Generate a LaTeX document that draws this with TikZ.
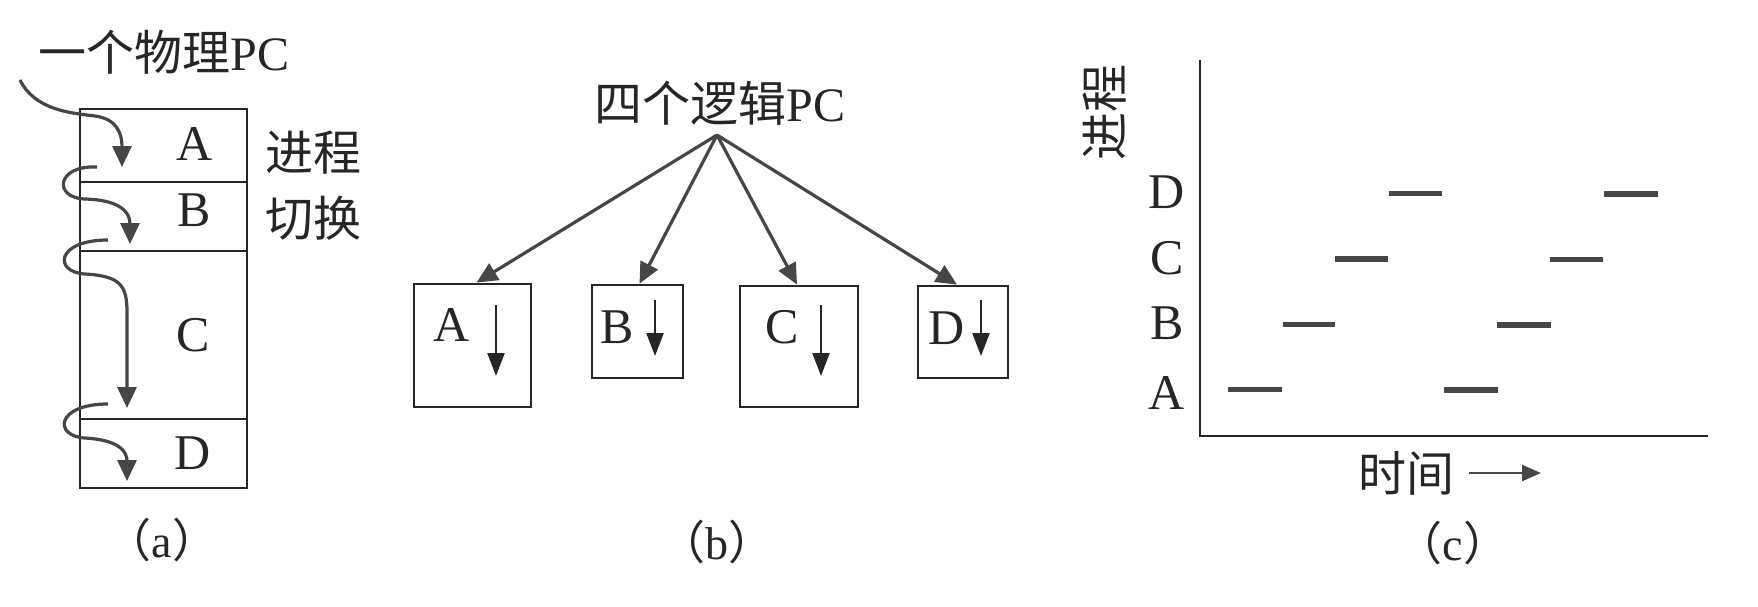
\documentclass[tikz,border=0pt]{standalone}
\usepackage{fontspec}
\setmainfont{Liberation Serif}
\newfontfamily\cjk{Noto Sans CJK SC}
\usetikzlibrary{arrows.meta}
\definecolor{ink}{HTML}{262626}
\definecolor{arr}{HTML}{464646}
\begin{document}
\begin{tikzpicture}[x=1pt,y=-1pt,
  txt/.style={inner sep=0pt, text=ink, font=\fontsize{48}{56}\selectfont},
  captxt/.style={inner sep=0pt, text=ink, font=\fontsize{46}{54}\selectfont},
  lett/.style={inner sep=0pt, text=ink, font=\fontsize{50}{58}\selectfont},
  cell/.style={draw=ink, line width=2.8pt, inner sep=0pt},
  pcarrow/.style={draw=arr, line width=3.2pt, -{Triangle[length=21pt,width=19pt]}},
  smallarrow/.style={draw=ink, line width=2.4pt, -{Triangle[length=23pt,width=17pt]}},
  axisline/.style={draw=ink, line width=2.8pt},
  bar/.style={draw=arr, line width=5.5pt}]
\fill[white] (0,0) rectangle (1758,606);
\useasboundingbox (0,0) rectangle (1758,606);

% ---------- (a) ----------
\node[txt] (ta) at (164,52) {{\cjk 一个物理}PC};
\node[cell, minimum width=167pt, minimum height=73pt] (cA) at (163.5,145.5) {};
\node[cell, minimum width=167pt, minimum height=69pt] (cB) at (163.5,216.5) {};
\node[cell, minimum width=167pt, minimum height=168pt] (cC) at (163.5,335) {};
\node[cell, minimum width=167pt, minimum height=69pt] (cD) at (163.5,453.5) {};
\node[lett] (lA) at (195,144) {A};
\node[lett] (lB) at (194,210) {B};
\node[lett] (lC) at (193,335) {C};
\node[lett] (lD) at (193,453) {D};
\node[txt] (sw1) at (313,153) {\cjk 进程};
\node[txt] (sw2) at (313,218) {\cjk 切换};
\coordinate (p0) at (20,80);
\coordinate (pA) at (122,167);
\coordinate (s1) at (97,167);
\coordinate (pB) at (130,244);
\coordinate (s2) at (108,240);
\coordinate (pC) at (127,408);
\coordinate (s3) at (108,404);
\coordinate (pD) at (127,481);
\draw[pcarrow] (p0) .. controls (35,110) and (70,113) .. (95,116) .. controls (118,119) and (122,135) .. (pA);
\draw[pcarrow] (s1) .. controls (56,165) and (53,198) .. (85,199) .. controls (120,200) and (130,212) .. (pB);
\draw[pcarrow] (s2) .. controls (56,240) and (53,272) .. (85,274) .. controls (120,276) and (127,285) .. (127,312) -- (pC);
\draw[pcarrow] (s3) .. controls (56,404) and (53,436) .. (85,438) .. controls (120,440) and (127,452) .. (pD);
\node[captxt] (capa) at (162,540) {{\cjk （}a{\cjk ）}};

% ---------- (b) ----------
\node[txt] (tb) at (720,103) {{\cjk 四个逻辑}PC};
\coordinate (apex) at (717,135);
\node[cell, minimum width=117pt, minimum height=123pt] (bA) at (472.5,345.5) {};
\node[cell, minimum width=91pt, minimum height=93pt] (bB) at (637.5,331.5) {};
\node[cell, minimum width=118pt, minimum height=121pt] (bC) at (799,346.5) {};
\node[cell, minimum width=90pt, minimum height=92pt] (bD) at (963,332) {};
\draw[pcarrow] (apex) -- ([xshift=4pt]bA.north);
\draw[pcarrow] (apex) -- ([xshift=2pt]bB.north);
\draw[pcarrow] (apex) -- ([xshift=-2pt]bC.north);
\draw[pcarrow] (apex) -- ([xshift=-6pt]bD.north);
\node[lett] (qA) at (452,325) {A};
\node[lett] (qB) at (617,327) {B};
\node[lett] (qC) at (782,327) {C};
\node[lett] (qD) at (947,328) {D};
\coordinate (a1) at (496,305); \coordinate (a2) at (496,376);
\coordinate (b1) at (655,300); \coordinate (b2) at (655,356);
\coordinate (c1) at (821,305); \coordinate (c2) at (821,376);
\coordinate (d1) at (981,300); \coordinate (d2) at (981,356);
\draw[smallarrow] (a1) -- (a2);
\draw[smallarrow] (b1) -- (b2);
\draw[smallarrow] (c1) -- (c2);
\draw[smallarrow] (d1) -- (d2);
\node[captxt] (capb) at (717,542) {{\cjk （}b{\cjk ）}};

% ---------- (c) ----------
\coordinate (ytop) at (1200,60);
\coordinate (orig) at (1200,436);
\coordinate (xend) at (1708,436);
\draw[axisline] (ytop) -- (orig) -- (xend);
\node[txt, rotate=90] (ylab) at (1105,112) {\cjk 进程};
\node[lett] (yD) at (1167,192) {D};
\node[lett] (yC) at (1167,258) {C};
\node[lett] (yB) at (1167,323) {B};
\node[lett] (yA) at (1167,393) {A};
\draw[bar] (1228,389.5) -- (1282,389.5);
\draw[bar] (1283,324.5) -- (1335,324.5);
\draw[bar] (1335,259) -- (1388,259);
\draw[bar] (1389,193.5) -- (1442,193.5);
\draw[bar] (1444,390) -- (1498,390);
\draw[bar] (1497,325) -- (1551,325);
\draw[bar] (1550,259.5) -- (1603,259.5);
\draw[bar] (1604,194) -- (1658,194);
\node[txt] (tl) at (1406,473) {\cjk 时间};
\coordinate (t1) at (1469,473);
\coordinate (t2) at (1541,473);
\draw[draw=arr, line width=2.4pt, -{Triangle[length=19pt,width=16pt]}] (t1) -- (t2);
\node[captxt] (capc) at (1453,543) {{\cjk （}c{\cjk ）}};
\end{tikzpicture}
\end{document}
